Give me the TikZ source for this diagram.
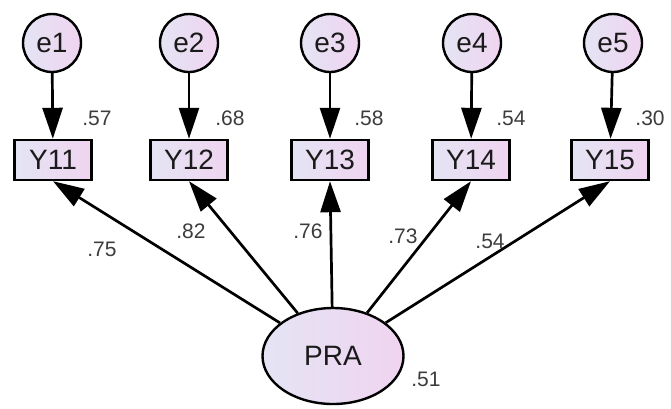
\documentclass[tikz,border=0pt]{standalone}
\usepackage{fontspec}
\setmainfont{Liberation Sans}
\usetikzlibrary{arrows.meta,shapes.geometric}
\definecolor{lfill}{HTML}{E4E4F4}
\definecolor{rfill}{HTML}{F0D4F0}
\definecolor{txt}{HTML}{1A1A1A}
\tikzset{
  obsbox/.style={draw=black,line width=2.4pt,rectangle,minimum width=77pt,minimum height=40pt,inner sep=0pt,left color=lfill,right color=rfill,font=\fontsize{28}{30}\selectfont,text=txt},
  errc/.style={draw=black,line width=2.4pt,circle,minimum size=58pt,inner sep=0pt,left color=lfill,right color=rfill,font=\fontsize{28}{30}\selectfont,text=txt},
  latent/.style={draw=black,line width=2.4pt,ellipse,minimum width=141pt,minimum height=96pt,inner sep=0pt,left color=lfill,right color=rfill,font=\fontsize{28}{30}\selectfont,text=txt},
  lbl/.style={font=\fontsize{21}{23}\selectfont,text=txt!85,inner sep=0pt},
  conn/.style={line width=2.7pt,-{Triangle[length=31pt,width=20pt]}}
}
\begin{document}
\begin{tikzpicture}[x=1pt,y=-1pt]
\useasboundingbox (0,0) rectangle (671,408);
\node[errc] (e1) at (52,43) {e1};
\node[errc] (e2) at (189,43) {e2};
\node[errc] (e3) at (330,43) {e3};
\node[errc] (e4) at (472,43) {e4};
\node[errc] (e5) at (613,43) {e5};
\node[obsbox] (Y11) at (53,160) {Y11};
\node[obsbox] (Y12) at (189,160) {Y12};
\node[obsbox] (Y13) at (330,160) {Y13};
\node[obsbox] (Y14) at (471,160) {Y14};
\node[obsbox] (Y15) at (610,160) {Y15};
\node[latent] (PRA) at (333,356) {PRA};
\foreach \i/\y in {1/Y11,2/Y12,3/Y13,4/Y14,5/Y15}{
  \draw[conn] (e\i) -- (\y);
  \draw[conn] (PRA) -- (\y.south);
}
\node[lbl] (v1) at (97,118) {.57};
\node[lbl] (v2) at (230,118) {.68};
\node[lbl] (v3) at (369,118) {.58};
\node[lbl] (v4) at (511,118) {.54};
\node[lbl] (v5) at (650,118) {.30};
\node[lbl] (p1) at (102,249) {.75};
\node[lbl] (p2) at (191,231) {.82};
\node[lbl] (p3) at (308,231) {.76};
\node[lbl] (p4) at (403,236) {.73};
\node[lbl] (p5) at (490,241) {.54};
\node[lbl] (v6) at (426,379) {.51};
\end{tikzpicture}
\end{document}
